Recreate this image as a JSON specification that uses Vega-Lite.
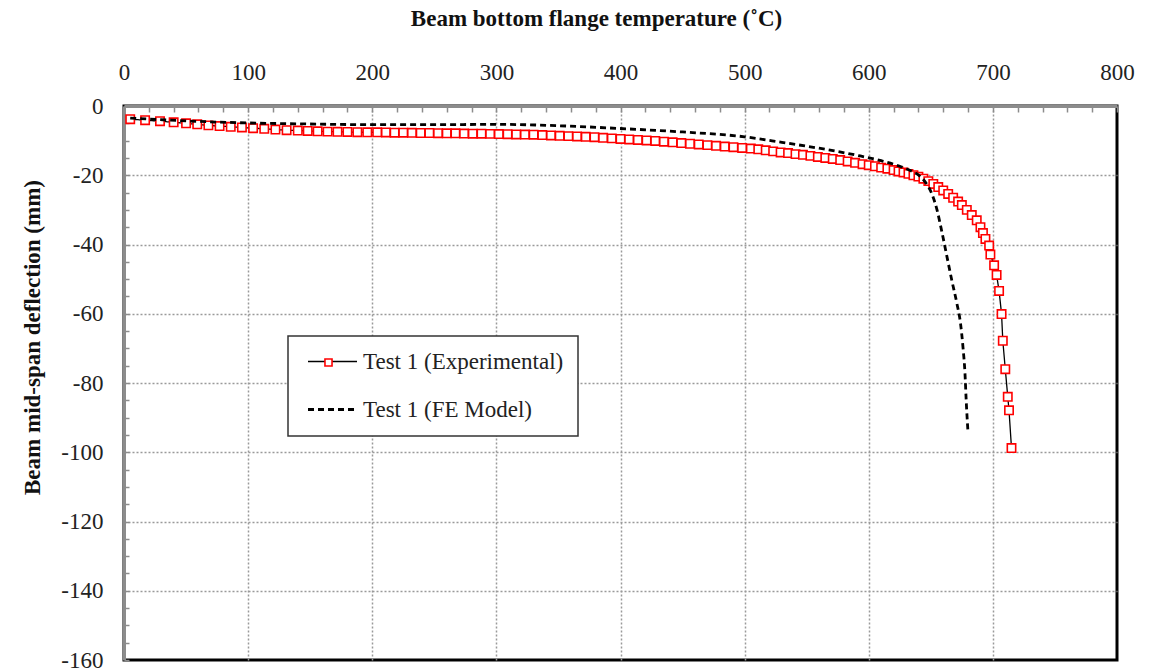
{
  "$schema": "https://vega.github.io/schema/vega-lite/v6.json",
  "width": 993,
  "height": 554,
  "autosize": {"type": "none"},
  "padding": {"left": 124, "top": 106, "right": 34, "bottom": 9},
  "background": "white",
  "config": {
    "view": {"stroke": "black", "strokeWidth": 3},
    "font": "Liberation Serif"
  },
  "datasets": {
    "exp": [
      {"T":5,"D":-3.8},{"T":17,"D":-4.1},{"T":29,"D":-4.4},{"T":40,"D":-4.7},{"T":50,"D":-5.0},{"T":59,"D":-5.3},{"T":68,"D":-5.6},{"T":77,"D":-5.8},{"T":86,"D":-6.0},{"T":95,"D":-6.2},{"T":104,"D":-6.4},{"T":113,"D":-6.6},{"T":122,"D":-6.8},{"T":131,"D":-7.0},{"T":140,"D":-7.1},{"T":148,"D":-7.2},{"T":156,"D":-7.3},{"T":164,"D":-7.4},{"T":172,"D":-7.45},{"T":180,"D":-7.5},{"T":188,"D":-7.55},{"T":196,"D":-7.6},{"T":204,"D":-7.6},{"T":211,"D":-7.65},{"T":218,"D":-7.7},{"T":225,"D":-7.7},{"T":232,"D":-7.75},{"T":239,"D":-7.8},{"T":246,"D":-7.8},{"T":253,"D":-7.85},{"T":260,"D":-7.9},{"T":267,"D":-7.9},{"T":274,"D":-7.95},{"T":281,"D":-8.0},{"T":288,"D":-8.0},{"T":295,"D":-8.05},{"T":302,"D":-8.1},{"T":309,"D":-8.15},{"T":316,"D":-8.2},{"T":323,"D":-8.25},{"T":330,"D":-8.3},{"T":337,"D":-8.4},{"T":344,"D":-8.5},{"T":351,"D":-8.6},{"T":358,"D":-8.7},{"T":365,"D":-8.8},{"T":372,"D":-8.9},{"T":379,"D":-9.0},{"T":386,"D":-9.2},{"T":393,"D":-9.35},{"T":400,"D":-9.5},{"T":407,"D":-9.65},{"T":414,"D":-9.8},{"T":421,"D":-9.95},{"T":428,"D":-10.1},{"T":435,"D":-10.3},{"T":442,"D":-10.5},{"T":449,"D":-10.7},{"T":456,"D":-10.9},{"T":463,"D":-11.1},{"T":470,"D":-11.3},{"T":477,"D":-11.5},{"T":484,"D":-11.7},{"T":491,"D":-11.9},{"T":498,"D":-12.1},{"T":505,"D":-12.3},{"T":511,"D":-12.5},{"T":517,"D":-12.8},{"T":523,"D":-13.1},{"T":529,"D":-13.4},{"T":535,"D":-13.6},{"T":541,"D":-13.9},{"T":547,"D":-14.1},{"T":553,"D":-14.4},{"T":559,"D":-14.7},{"T":565,"D":-15.0},{"T":571,"D":-15.3},{"T":577,"D":-15.6},{"T":583,"D":-16.0},{"T":589,"D":-16.4},{"T":595,"D":-16.8},{"T":600,"D":-17.1},{"T":605,"D":-17.4},{"T":610,"D":-17.8},{"T":615,"D":-18.1},{"T":620,"D":-18.5},{"T":624,"D":-18.9},{"T":628,"D":-19.2},{"T":632,"D":-19.6},{"T":636,"D":-20.0},{"T":640,"D":-20.4},{"T":644,"D":-21.0},{"T":648,"D":-21.7},{"T":652,"D":-22.5},{"T":656,"D":-23.4},{"T":660,"D":-24.4},{"T":664,"D":-25.4},{"T":668,"D":-26.5},{"T":672,"D":-27.6},{"T":675,"D":-28.6},{"T":679,"D":-30},{"T":683,"D":-31.5},{"T":687,"D":-33},{"T":690,"D":-35},{"T":692,"D":-36.7},{"T":694,"D":-38.4},{"T":697,"D":-40.3},{"T":698,"D":-42.9},{"T":701,"D":-46},{"T":703,"D":-48.8},{"T":705,"D":-53.4},{"T":707,"D":-60.1},{"T":708,"D":-67.8},{"T":710,"D":-76},{"T":712,"D":-84},{"T":713,"D":-87.9},{"T":715,"D":-98.8}
    ],
    "fe": [
      {"T":5,"D":-3.5},{"T":50,"D":-4.3},{"T":100,"D":-4.9},{"T":150,"D":-5.2},{"T":200,"D":-5.4},{"T":250,"D":-5.4},{"T":300,"D":-5.3},{"T":350,"D":-5.7},{"T":400,"D":-6.5},{"T":450,"D":-7.5},{"T":500,"D":-8.9},{"T":530,"D":-10.5},{"T":560,"D":-12.2},{"T":590,"D":-14.2},{"T":610,"D":-15.8},{"T":625,"D":-17.4},{"T":635,"D":-18.9},{"T":641,"D":-20.2},{"T":646,"D":-22.2},{"T":651,"D":-25.5},{"T":655,"D":-30},{"T":659,"D":-36.5},{"T":663,"D":-43.5},{"T":667,"D":-50.5},{"T":671,"D":-57},{"T":674,"D":-63},{"T":676,"D":-70},{"T":677.5,"D":-77},{"T":678.5,"D":-85},{"T":680,"D":-94.5}
    ]
  },
  "encoding": {
    "x": {
      "field": "T", "type": "quantitative",
      "scale": {"domain": [0, 800], "nice": false, "zero": false},
      "axis": {
        "orient": "top",
        "title": "Beam bottom flange temperature (˚C)",
        "titleFont": "Liberation Serif", "titleFontSize": 23, "titleFontWeight": "bold", "titleColor": "#111",
        "titleX": 472, "titleY": -88, "titleAlign": "center", "titleBaseline": "middle", "titleAnchor": null,
        "values": [0,20,40,60,80,100,120,140,160,180,200,220,240,260,280,300,320,340,360,380,400,420,440,460,480,500,520,540,560,580,600,620,640,660,680,700,720,740,760,780,800],
        "labelExpr": "datum.value % 100 === 0 ? '' + datum.value : ''",
        "labelFont": "Liberation Serif", "labelFontSize": 23, "labelColor": "#222",
        "labelPadding": 28, "labelFlush": false, "labelOverlap": false,
        "domainColor": "#8c8c8c", "domainWidth": 3,
        "tickColor": "#8c8c8c", "tickWidth": 1.5, "tickSize": -6,
        "grid": true, "gridColor": "#9a9a9a", "gridDash": [2, 2], "gridWidth": 1.5,
        "gridOpacity": {"condition": {"test": "datum.value % 100 === 0 && datum.value > 0 && datum.value < 800", "value": 1}, "value": 0}
      }
    },
    "y": {
      "field": "D", "type": "quantitative",
      "scale": {"domain": [-160, 0], "nice": false, "zero": false},
      "axis": {
        "orient": "left",
        "title": "Beam mid-span deflection (mm)",
        "titleFont": "Liberation Serif", "titleFontSize": 23, "titleFontWeight": "bold", "titleColor": "#111",
        "titleX": -92, "titleY": 231, "titleAngle": -90, "titleAlign": "center", "titleBaseline": "middle", "titleAnchor": null,
        "values": [0,-5,-10,-15,-20,-25,-30,-35,-40,-45,-50,-55,-60,-65,-70,-75,-80,-85,-90,-95,-100,-105,-110,-115,-120,-125,-130,-135,-140,-145,-150,-155,-160],
        "labelExpr": "datum.value % 20 === 0 ? '' + datum.value : ''",
        "labelFont": "Liberation Serif", "labelFontSize": 23, "labelColor": "#222",
        "labelPadding": 26, "labelFlush": false, "labelOverlap": false,
        "domainColor": "#8c8c8c", "domainWidth": 3,
        "tickColor": "#8c8c8c", "tickWidth": 1.5, "tickSize": -5,
        "grid": true, "gridColor": "#9a9a9a", "gridDash": [2, 2], "gridWidth": 1.5,
        "gridOpacity": {"condition": {"test": "datum.value % 20 === 0 && datum.value < 0 && datum.value > -160", "value": 1}, "value": 0}
      }
    }
  },
  "layer": [
    {
      "data": {"name": "exp"},
      "transform": [{"calculate": "'Test 1 (Experimental)'", "as": "series"}],
      "mark": {"type": "line", "color": "black", "strokeWidth": 1.3},
      "encoding": {
        "strokeDash": {
          "field": "series", "type": "nominal",
          "scale": {"domain": ["Test 1 (Experimental)", "Test 1 (FE Model)"], "range": [[1, 0], [6, 4]]},
          "legend": {
            "orient": "none", "legendX": 164, "legendY": 230, "title": null, "zindex": 1,
            "fillColor": "white", "strokeColor": "#333", "padding": 14,
            "symbolType": "stroke", "symbolSize": 2400, "symbolStrokeColor": "black", "symbolStrokeWidth": 2.5,
            "symbolOffset": 19,
            "labelFont": "Liberation Serif", "labelFontSize": 23, "labelColor": "#222", "labelOffset": 19, "labelLimit": 400,
            "rowPadding": 24,
            "encode": {
              "legend": {"update": {"strokeWidth": {"value": 1.5}}},
              "symbols": {"update": {"strokeWidth": {"signal": "datum.value === 'Test 1 (FE Model)' ? 2.8 : 1.3"}}}
            }
          }
        }
      }
    },
    {
      "data": {"name": "exp"},
      "transform": [{"calculate": "'Test 1 (Experimental)'", "as": "series"}],
      "mark": {"type": "point", "shape": "square", "filled": false, "fill": "white", "strokeWidth": 1.6, "size": 70, "opacity": 1},
      "encoding": {
        "stroke": {
          "field": "series", "type": "nominal",
          "scale": {"domain": ["Test 1 (Experimental)"], "range": ["#ff0000"]},
          "legend": {
            "orient": "none", "legendX": 200, "legendY": 252, "title": null, "padding": 0, "zindex": 2,
            "symbolType": "square", "symbolSize": 50, "symbolFillColor": "white", "symbolStrokeWidth": 1.6,
            "labelExpr": "''", "labelFontSize": 6, "labelOffset": 0,
            "encode": {
              "symbols": {"update": {"fill": {"value": "white"}, "fillOpacity": {"value": 1}, "strokeWidth": {"value": 1.6}}}
            }
          }
        }
      }
    },
    {
      "data": {"name": "fe"},
      "transform": [{"calculate": "'Test 1 (FE Model)'", "as": "series"}],
      "mark": {"type": "line", "color": "black", "strokeWidth": 2.8, "interpolate": "monotone"},
      "encoding": {
        "strokeDash": {"field": "series", "type": "nominal"}
      }
    }
  ]
}
